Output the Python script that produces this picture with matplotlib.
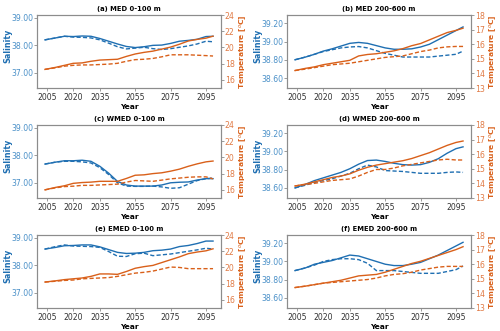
import numpy as np
import matplotlib
matplotlib.use("Agg")
import matplotlib.pyplot as plt

years = [2004, 2010, 2015, 2020, 2025, 2030, 2035, 2040, 2045, 2050,
         2055, 2060, 2065, 2070, 2075, 2080, 2085, 2090, 2095, 2099]
xticks = [2005, 2020, 2035, 2055, 2075, 2095]

titles = ["(a) MED 0-100 m", "(b) MED 200-600 m",
          "(c) WMED 0-100 m", "(d) WMED 200-600 m",
          "(e) EMED 0-100 m", "(f) EMED 200-600 m"]

# salinity: solid / dashed
sal_a = [38.20, 38.27, 38.33, 38.32, 38.34, 38.33, 38.25, 38.15, 38.05, 37.96,
         37.92, 37.95, 38.00, 38.01, 38.07, 38.15, 38.18, 38.22, 38.32, 38.33]
sal_a_d = [38.20, 38.27, 38.33, 38.30, 38.29, 38.27, 38.20, 38.08, 37.95, 37.87,
           37.90, 37.93, 37.88, 37.85, 37.88, 37.93, 37.98, 38.05, 38.15, 38.13]
sal_b = [38.80, 38.83, 38.86, 38.895, 38.92, 38.95, 38.98, 38.99, 38.98, 38.955,
         38.93, 38.915, 38.915, 38.92, 38.94, 38.97, 39.02, 39.07, 39.12, 39.16]
sal_b_d = [38.80, 38.83, 38.86, 38.89, 38.91, 38.93, 38.94, 38.945, 38.93, 38.90,
           38.87, 38.85, 38.83, 38.83, 38.83, 38.83, 38.84, 38.85, 38.86, 38.895]
sal_c = [37.68, 37.75, 37.80, 37.80, 37.82, 37.78, 37.60, 37.35, 37.05, 36.92,
         36.88, 36.88, 36.88, 36.92, 37.00, 37.02, 37.03, 37.10, 37.15, 37.15]
sal_c_d = [37.68, 37.75, 37.78, 37.78, 37.76, 37.72, 37.55, 37.30, 37.00, 36.88,
           36.87, 36.87, 36.88, 36.85, 36.80, 36.82, 36.95, 37.08, 37.15, 37.17]
sal_d = [38.60, 38.64, 38.68, 38.71, 38.74, 38.77, 38.81, 38.86, 38.90, 38.905,
         38.89, 38.87, 38.855, 38.85, 38.855, 38.88, 38.92, 38.98, 39.03, 39.05]
sal_d_d = [38.60, 38.63, 38.66, 38.68, 38.70, 38.73, 38.76, 38.81, 38.85, 38.83,
           38.79, 38.785, 38.78, 38.77, 38.76, 38.76, 38.76, 38.77, 38.775, 38.77]
sal_e = [38.59, 38.65, 38.71, 38.72, 38.74, 38.74, 38.67, 38.57, 38.47, 38.43,
         38.44, 38.47, 38.53, 38.55, 38.59, 38.68, 38.72, 38.79, 38.88, 38.88]
sal_e_d = [38.59, 38.68, 38.74, 38.70, 38.69, 38.68, 38.65, 38.50, 38.33, 38.32,
           38.42, 38.44, 38.35, 38.38, 38.41, 38.46, 38.51, 38.56, 38.62, 38.59]
sal_f = [38.90, 38.93, 38.97, 38.99, 39.01, 39.04, 39.07, 39.06, 39.03, 39.00,
         38.97, 38.955, 38.955, 38.97, 38.99, 39.03, 39.07, 39.12, 39.17, 39.21]
sal_f_d = [38.90, 38.93, 38.96, 39.00, 39.02, 39.03, 39.03, 39.02, 38.98, 38.90,
           38.90, 38.90, 38.89, 38.88, 38.87, 38.87, 38.87, 38.89, 38.91, 38.95]

# temperature: solid / dashed
tem_a = [17.3, 17.55, 17.8, 18.05, 18.1, 18.3, 18.45, 18.5, 18.55, 18.9,
         19.2, 19.4, 19.55, 19.8, 20.05, 20.4, 20.8, 21.0, 21.15, 21.4]
tem_a_d = [17.3, 17.5, 17.7, 17.8, 17.85, 17.85, 17.9, 17.95, 18.05, 18.3,
           18.5, 18.55, 18.65, 18.85, 19.1, 19.1, 19.1, 19.05, 19.0, 18.95]
tem_b = [14.2, 14.35, 14.45, 14.6, 14.7, 14.8, 14.9, 15.2, 15.3, 15.35,
         15.45, 15.55, 15.7, 15.9, 16.05, 16.3, 16.55, 16.8, 16.95, 17.1]
tem_b_d = [14.2, 14.3, 14.4, 14.5, 14.6, 14.65, 14.7, 14.8, 14.9, 15.0,
           15.1, 15.15, 15.2, 15.35, 15.5, 15.6, 15.75, 15.82, 15.85, 15.85]
tem_c = [16.0, 16.3, 16.5, 16.8, 16.9, 16.95, 17.05, 17.05, 17.05, 17.4,
         17.8, 17.85, 18.0, 18.1, 18.3, 18.55, 18.9, 19.2, 19.45, 19.55]
tem_c_d = [16.0, 16.25, 16.4, 16.45, 16.55, 16.55, 16.6, 16.65, 16.7, 16.95,
           17.15, 17.1, 17.05, 17.2, 17.35, 17.45, 17.55, 17.6, 17.6, 17.35]
tem_d = [13.82, 13.95, 14.1, 14.25, 14.4, 14.5, 14.65, 14.9, 15.1, 15.25,
         15.35, 15.45, 15.55, 15.7, 15.9, 16.1, 16.35, 16.6, 16.8, 16.9]
tem_d_d = [13.82, 13.92, 14.0, 14.1, 14.2, 14.25, 14.3, 14.5, 14.75, 14.95,
           14.95, 15.05, 15.2, 15.3, 15.4, 15.5, 15.6, 15.65, 15.6, 15.6]
tem_e = [18.2, 18.35, 18.5, 18.6, 18.7, 18.9, 19.2, 19.2, 19.15, 19.5,
         19.9, 20.1, 20.25, 20.6, 20.95, 21.3, 21.7, 21.9, 22.05, 22.3]
tem_e_d = [18.2, 18.3, 18.4, 18.45, 18.6, 18.65, 18.7, 18.75, 18.9, 19.1,
           19.3, 19.4, 19.55, 19.8, 20.05, 20.0, 19.85, 19.85, 19.85, 19.85]
tem_f = [14.4, 14.5, 14.6, 14.7, 14.8, 14.9, 15.05, 15.2, 15.25, 15.3,
         15.45, 15.65, 15.85, 16.05, 16.2, 16.4, 16.6, 16.8, 17.0, 17.2]
tem_f_d = [14.4, 14.5, 14.6, 14.7, 14.75, 14.8, 14.85, 14.9, 14.95, 15.05,
           15.2, 15.3, 15.35, 15.45, 15.6, 15.7, 15.8, 15.85, 15.85, 15.85]

sal = [(sal_a, sal_a_d), (sal_b, sal_b_d), (sal_c, sal_c_d),
       (sal_d, sal_d_d), (sal_e, sal_e_d), (sal_f, sal_f_d)]
tem = [(tem_a, tem_a_d), (tem_b, tem_b_d), (tem_c, tem_c_d),
       (tem_d, tem_d_d), (tem_e, tem_e_d), (tem_f, tem_f_d)]

shallow_sal_ticks = [37.0, 38.0, 39.0]
deep_sal_ticks = [38.6, 38.8, 39.0, 39.2]
shallow_tem_ticks = [16, 18, 20, 22, 24]
deep_tem_ticks = [13, 14, 15, 16, 17, 18]

blue = "#1f6fb2"
orange = "#d9601a"
blue_tick = "#4a90c8"
orange_tick = "#e07a45"
spine = "#8c8c8c"

fig = plt.figure(figsize=(5.0, 3.31), dpi=100)
lefts = [0.074, 0.574]
bottoms = [0.734, 0.402, 0.0695]
w, h = 0.368, 0.2205

for i in range(6):
    row, col = divmod(i, 2)
    ax = fig.add_axes([lefts[col], bottoms[row], w, h])
    ax2 = ax.twinx()
    s_sol, s_das = sal[i]
    t_sol, t_das = tem[i]
    ax.plot(years, s_sol, color=blue, lw=1.0)
    ax.plot(years, s_das, color=blue, lw=1.0, ls="--", dashes=(3, 1.6))
    ax2.plot(years, t_sol, color=orange, lw=1.0)
    ax2.plot(years, t_das, color=orange, lw=1.0, ls="--", dashes=(3, 1.6))

    ax.set_xlim(1999.5, 2103.5)
    ax.set_xticks(xticks)
    if col == 0:
        ax.set_ylim(36.45, 39.1)
        ax.set_yticks(shallow_sal_ticks)
        ax2.set_ylim(15, 24)
        ax2.set_yticks(shallow_tem_ticks)
    else:
        ax.set_ylim(38.49, 39.29)
        ax.set_yticks(deep_sal_ticks)
        ax2.set_ylim(13, 18)
        ax2.set_yticks(deep_tem_ticks)
    ax.set_yticklabels([f"{v:.2f}" for v in ax.get_yticks()])

    ax.tick_params(axis="x", labelsize=5.6, length=2, width=0.6,
                   color=spine, labelcolor="#333333", pad=1.5)
    ax.tick_params(axis="y", labelsize=5.6, length=2, width=0.6,
                   color=spine, labelcolor=blue_tick, pad=0.8)
    ax2.tick_params(axis="y", labelsize=5.6, length=2, width=0.6,
                    color=spine, labelcolor=orange_tick, pad=0.8)
    for a in (ax, ax2):
        for sp in a.spines.values():
            sp.set_color(spine)
            sp.set_linewidth(0.8)

    ax.set_title(titles[i], fontsize=4.9, fontweight="bold", pad=3)
    ax.set_xlabel("Year", fontsize=5.4, fontweight="bold", labelpad=1.5)
    ax.set_ylabel("Salinity", fontsize=5.8, fontweight="bold", color=blue)
    ax.yaxis.set_label_coords(-0.136, 0.58)
    ax2.set_ylabel("Temperature [$^o$C]", fontsize=5.4, fontweight="bold",
                   color=orange)
    ax2.yaxis.set_label_coords(1.088, 0.5)

plt.savefig("out.png", dpi=100)
plt.close()
